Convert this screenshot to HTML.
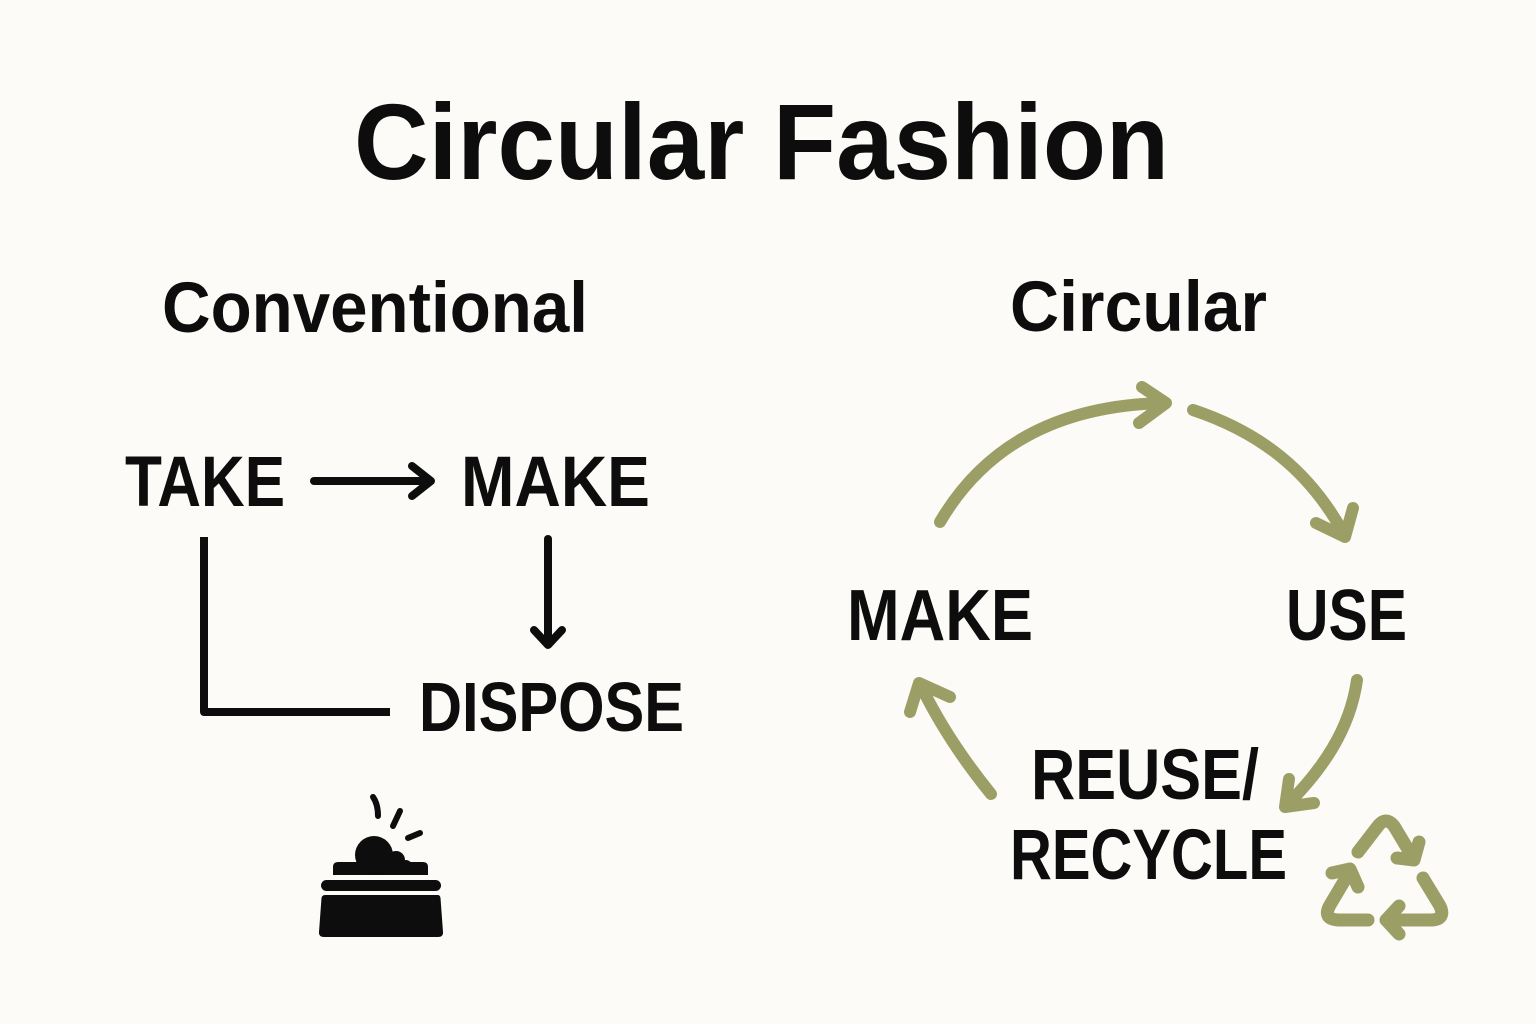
<!DOCTYPE html>
<html>
<head>
<meta charset="utf-8">
<style>
  html,body{margin:0;padding:0;background:#fcfbf7;}
  svg{display:block;}
  text{font-family:"Liberation Sans", Arial, sans-serif;font-weight:bold;fill:#0d0d0d;}
</style>
</head>
<body>
<svg width="1536" height="1024" viewBox="0 0 1536 1024" xmlns="http://www.w3.org/2000/svg">
  <rect x="0" y="0" width="1536" height="1024" fill="#fcfbf7"/>

  <!-- Title -->
  <text x="354" y="179" font-size="108" textLength="815" lengthAdjust="spacingAndGlyphs">Circular Fashion</text>

  <!-- Section headings -->
  <text x="162" y="332" font-size="71" textLength="426" lengthAdjust="spacingAndGlyphs">Conventional</text>
  <text x="1010" y="331" font-size="71" textLength="257" lengthAdjust="spacingAndGlyphs">Circular</text>

  <!-- Conventional labels -->
  <text x="125" y="506" font-size="71" textLength="160" lengthAdjust="spacingAndGlyphs">TAKE</text>
  <text x="461" y="506" font-size="71" textLength="189" lengthAdjust="spacingAndGlyphs">MAKE</text>
  <text x="419" y="731" font-size="70" textLength="265" lengthAdjust="spacingAndGlyphs">DISPOSE</text>

  <!-- Conventional connectors -->
  <g stroke="#0d0d0d" stroke-width="8" fill="none" stroke-linecap="round" stroke-linejoin="round">
    <line x1="314" y1="481" x2="430" y2="481"/>
    <polyline points="412,466 431,481 412,496"/>
    <line x1="548" y1="539" x2="548" y2="644"/>
    <polyline points="534,630 548,645 562,630"/>
  </g>
  <polyline points="204,537 204,712 390,712" stroke="#0d0d0d" stroke-width="8" fill="none" stroke-linecap="butt" stroke-linejoin="round"/>

  <!-- Trash / dispose icon -->
  <g fill="#0d0d0d">
    <path d="M325,895 L438,895 Q440,895 440.5,898 L443,932 Q443.5,937 438,937 L324,937 Q318.5,937 319,932 L321.5,898 Q322,895 325,895 Z"/>
    <rect x="321" y="880" width="120" height="11" rx="5.5"/>
    <path d="M333,875 L333,867 Q333,862 338,862 L423,862 Q428,862 428,867 L428,875 Z"/>
    <circle cx="374" cy="855" r="19"/>
    <circle cx="396" cy="860" r="9"/>
    <circle cx="406" cy="866" r="6"/>
  </g>
  <g stroke="#0d0d0d" stroke-width="6" fill="none" stroke-linecap="round">
    <path d="M373,797 Q378,804 378,816"/>
    <path d="M400,811 L393,826"/>
    <path d="M420,833 L408,838"/>
  </g>

  <!-- Circular labels -->
  <text x="847" y="640" font-size="72" textLength="186" lengthAdjust="spacingAndGlyphs">MAKE</text>
  <text x="1286" y="640" font-size="72" textLength="121" lengthAdjust="spacingAndGlyphs">USE</text>
  <text x="1031" y="799" font-size="71" textLength="228" lengthAdjust="spacingAndGlyphs">REUSE/</text>
  <text x="1010" y="879" font-size="71" textLength="277" lengthAdjust="spacingAndGlyphs">RECYCLE</text>

  <!-- Circular arrows -->
  <g stroke="#9c9f65" stroke-width="12" fill="none" stroke-linecap="round" stroke-linejoin="round">
    <path d="M940,522 C985,445 1060,405 1165,403"/>
    <polyline points="1142,387 1166,403 1139,423"/>

    <path d="M1193,410 C1262,433 1310,472 1344,534"/>
    <polyline points="1316,523 1345,537 1353,508"/>

    <path d="M991,794 C965,762 940,725 921,686"/>
    <polyline points="910,712 919,683 950,697"/>

    <path d="M1357,680 C1350,730 1322,770 1286,806"/>
    <polyline points="1289,779 1285,807 1314,803"/>
  </g>

  <!-- Recycle icon -->
  <g stroke="#9c9f65" stroke-width="13" fill="none" stroke-linecap="round" stroke-linejoin="round">
    <path d="M1358,852 L1378,826 Q1386,816 1394,826 L1412,856"/>
    <polyline points="1419,842 1414,860 1397,858"/>

    <path d="M1423,878 L1440,906 Q1446,919 1432,920 L1390,920"/>
    <polyline points="1399,906 1386,920 1399,934"/>

    <path d="M1368,920 L1338,920 Q1322,919 1330,905 L1349,873"/>
    <polyline points="1332,873 1350,869 1358,887"/>
  </g>
</svg>
</body>
</html>
